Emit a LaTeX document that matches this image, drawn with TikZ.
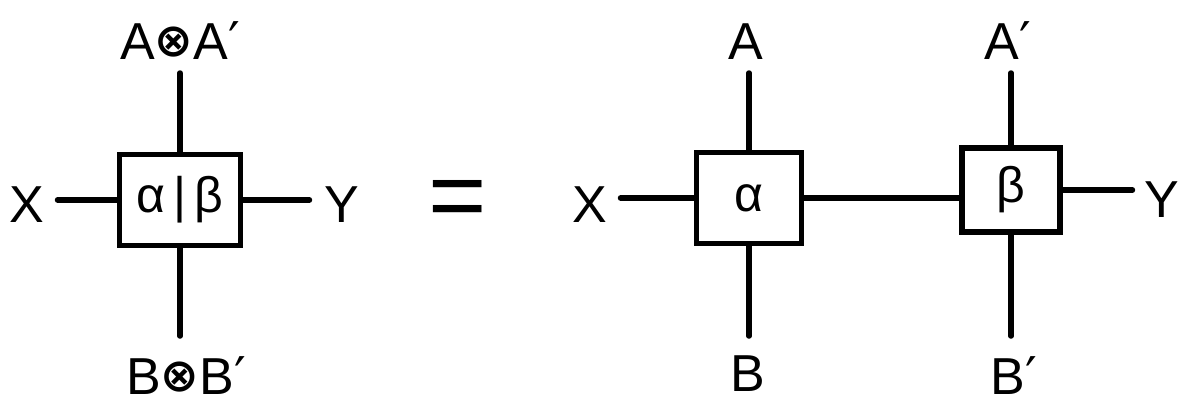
\documentclass[tikz,border=0pt]{standalone}
\usepackage{fontspec}
\setmainfont{Liberation Sans}
\newfontfamily\symfont{DejaVu Sans}
\usetikzlibrary{positioning}
\tikzset{
  wire/.style={line width=5.5pt, line cap=round},
  morph/.style={draw, line width=5.5pt, inner sep=0pt, font=\fontsize{50}{50}\selectfont},
  lbl/.style={inner sep=0pt, font=\fontsize{52}{52}\selectfont},
}
\newcommand{\tensor}{{\symfont\bfseries\fontsize{46}{46}\selectfont\raisebox{3pt}{⊗}}}
\newcommand{\pr}{{\symfont ′}}

\begin{document}
\begin{tikzpicture}[x=1pt,y=-1pt]
  \useasboundingbox (0,0) rectangle (1186,408);

  % left: the joint box
  \node[morph, minimum width=121pt, minimum height=91pt] (ab) at (180,200) {α\,|\,β};
  \node[lbl, anchor=south] (aa) at (180,60) {A\tensor A\pr};
  \node[lbl, anchor=north] (bb) at (186,356) {B\tensor B\pr};
  \node[lbl] (x1) at (27,205) {X};
  \node[lbl] (y1) at (342,205) {Y};
  \draw[wire, shorten >=13pt] (ab.north) -- (aa.south -| ab.north);
  \draw[wire, shorten >=20pt] (ab.south) -- (bb.north -| ab.south);
  \draw[wire, shorten >=13pt] (ab.west) -- (ab.west -| x1.east);
  \draw[wire, shorten >=15pt] (ab.east) -- (ab.east -| y1.west);

  \node[lbl, font=\fontsize{100}{100}\selectfont] (eq) at (458,205) {=};

  % right: the two boxes in a row
  \node[morph, minimum width=105pt, minimum height=91pt] (al) at (749,198) {α};
  \node[morph, minimum width=98pt, minimum height=84pt] (be) at (1011,190) {β};
  \node[lbl, anchor=south] (a) at (746,60) {A};
  \node[lbl, anchor=north] (b) at (748,356) {B};
  \node[lbl, anchor=south] (a2) at (1008,60) {A\pr};
  \node[lbl, anchor=north] (b2) at (1014,356) {B\pr};
  \node[lbl] (x2) at (590,205) {X};
  \node[lbl] (y2) at (1162,200) {Y};
  \draw[wire, shorten >=13pt] (al.north) -- (a.south -| al.north);
  \draw[wire, shorten >=20pt] (al.south) -- (b.north -| al.south);
  \draw[wire, shorten >=13pt] (be.north) -- (a2.south -| be.north);
  \draw[wire, shorten >=20pt] (be.south) -- (b2.north -| be.south);
  \draw[wire, shorten >=13pt] (al.west) -- (al.west -| x2.east);
  \draw[wire] (al.east) -- (al.east -| be.west);
  \draw[wire, shorten >=12pt] (be.east) -- (be.east -| y2.west);
\end{tikzpicture}
\end{document}
